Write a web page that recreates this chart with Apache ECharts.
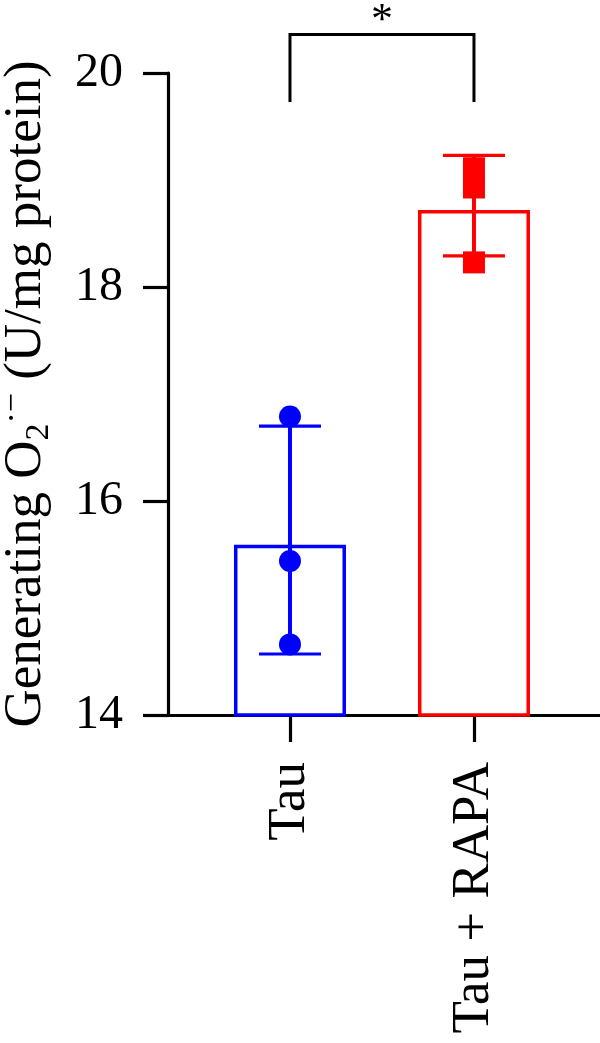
<!DOCTYPE html>
<html>
<head>
<meta charset="utf-8">
<script src="https://cdn.jsdelivr.net/npm/echarts@6/dist/echarts.min.js"></script>
<style>
html,body{margin:0;padding:0;background:#fff;}
#chart{width:600px;height:1043px;}
</style>
</head>
<body>
<div id="chart"></div>
<script>
// ---- data ----
var categories = ['Tau', 'Tau + RAPA'];
var barMeans = [15.59, 18.72];
var errLow = [14.57, 18.29];
var errHigh = [16.70, 19.23];
var tauPoints = [16.79, 15.44, 14.66];
var rapaPoints = [19.11, 18.93, 18.23];
var yTicks = [14, 16, 18, 20];
var bracket = { from: 0, to: 1, top: 20.36, bottom: 19.73, label: '*' };
var colors = ['#0000ff', '#ff0000'];

var FONT = '"Liberation Serif", "Times New Roman", serif';

var chart = echarts.init(document.getElementById('chart'), null, { renderer: 'canvas' });

var barData = barMeans.map(function (v, i) {
  return {
    value: [i, v],
    itemStyle: { color: 'rgba(255,255,255,0)', borderColor: colors[i], borderWidth: 3.5 }
  };
});

var errData = barMeans.map(function (v, i) { return [i, errLow[i], errHigh[i]]; });

var option = {
  animation: false,
  backgroundColor: '#ffffff',
  grid: { left: 168, right: 0, top: 73, bottom: 328, containLabel: false, outerBoundsMode: 'none' },
  xAxis: {
    type: 'value',
    min: -0.663,
    max: 1.685,
    splitLine: { show: false },
    axisLine: { show: true, onZero: false, lineStyle: { color: '#000', width: 3.2 } },
    axisTick: { show: true, customValues: [0, 1], length: 27, lineStyle: { color: '#000', width: 3.2 } },
    axisLabel: {
      show: true,
      customValues: [0, 1],
      rotate: 90,
      margin: 47,
      fontFamily: FONT,
      fontSize: 53,
      color: '#000',
      formatter: function (v) { return categories[Math.round(v)] || ''; }
    }
  },
  yAxis: {
    type: 'value',
    min: yTicks[0],
    max: yTicks[yTicks.length - 1],
    interval: 2,
    splitLine: { show: false },
    axisLine: { show: true, onZero: false, lineStyle: { color: '#000', width: 3.2 } },
    axisTick: { show: true, length: 25, lineStyle: { color: '#000', width: 3.2 } },
    axisLabel: { margin: 45, fontFamily: FONT, fontSize: 48, color: '#000' },
    name: '{m|Generating O}{sub|2}{sup|·−}{m| (U/mg protein)}',
    nameLocation: 'middle',
    nameGap: 112,
    nameRotate: 90,
    nameTextStyle: {
      fontFamily: FONT,
      fontSize: 53,
      color: '#000',
      rich: {
        m: { fontFamily: FONT, fontSize: 53, color: '#000', lineHeight: 60, verticalAlign: 'middle' },
        sub: { fontFamily: FONT, fontSize: 34, color: '#000', lineHeight: 60, verticalAlign: 'bottom' },
        sup: { fontFamily: FONT, fontSize: 34, color: '#000', lineHeight: 60, verticalAlign: 'top' }
      }
    }
  },
  series: [
    {
      type: 'bar',
      data: barData,
      barWidth: 112,
      z: 1
    },
    {
      type: 'custom',
      data: errData,
      z: 3,
      renderItem: function (params, api) {
        var x = api.value(0);
        var lo = api.coord([x, api.value(1)]);
        var hi = api.coord([x, api.value(2)]);
        var c = colors[params.dataIndex];
        var half = 31;
        return {
          type: 'group',
          children: [
            { type: 'line', shape: { x1: lo[0], y1: lo[1], x2: hi[0], y2: hi[1] }, style: { stroke: c, lineWidth: 4 } },
            { type: 'line', shape: { x1: lo[0] - half, y1: lo[1], x2: lo[0] + half, y2: lo[1] }, style: { stroke: c, lineWidth: 3.2 } },
            { type: 'line', shape: { x1: hi[0] - half, y1: hi[1], x2: hi[0] + half, y2: hi[1] }, style: { stroke: c, lineWidth: 3.2 } }
          ]
        };
      }
    },
    {
      type: 'scatter',
      data: tauPoints.map(function (v) { return [0, v]; }),
      symbol: 'circle',
      symbolSize: 22,
      itemStyle: { color: colors[0], opacity: 1 },
      z: 4
    },
    {
      type: 'scatter',
      data: rapaPoints.map(function (v) { return [1, v]; }),
      symbol: 'rect',
      symbolSize: 22,
      itemStyle: { color: colors[1], opacity: 1 },
      z: 4
    },
    {
      type: 'custom',
      data: [[bracket.from, bracket.to, bracket.top, bracket.bottom]],
      clip: false,
      z: 5,
      renderItem: function (params, api) {
        var a = api.coord([api.value(0), api.value(2)]);
        var b = api.coord([api.value(1), api.value(2)]);
        var aLow = api.coord([api.value(0), api.value(3)]);
        var bLow = api.coord([api.value(1), api.value(3)]);
        return {
          type: 'group',
          children: [
            { type: 'polyline', shape: { points: [aLow, a, b, bLow] }, style: { stroke: '#000', lineWidth: 3, fill: null } },
            { type: 'text', style: { text: bracket.label, x: (a[0] + b[0]) / 2, y: a[1] - 35, align: 'center', verticalAlign: 'top', font: '44px ' + FONT, fill: '#000' } }
          ]
        };
      }
    }
  ]
};

chart.setOption(option);
</script>
</body>
</html>
